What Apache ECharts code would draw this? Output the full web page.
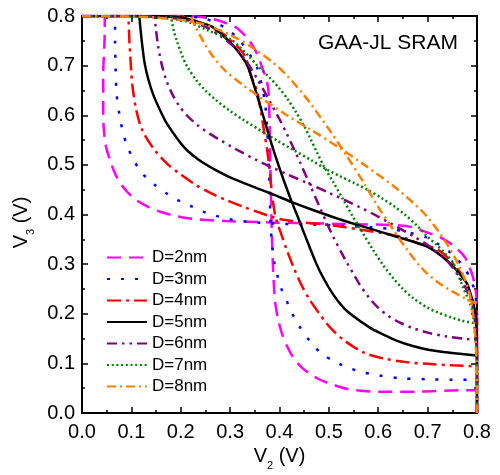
<!DOCTYPE html>
<html>
<head>
<meta charset="utf-8">
<script src="https://cdn.jsdelivr.net/npm/echarts@6.0.0/dist/echarts.min.js"></script>
<style>
  html, body { margin: 0; padding: 0; background: #fff; }
  #main { width: 500px; height: 475px; }
</style>
</head>
<body>
<div id="main"></div>
<script>
// inverter transfer curves: vout = f(vin)
// each one is drawn twice (V3 vs V2 and V2 vs V3) to give the butterfly
var vin2  = [0, 0.1, 0.21, 0.25, 0.28, 0.3, 0.315, 0.335, 0.35, 0.36, 0.367, 0.373, 0.378, 0.381, 0.384, 0.387, 0.391, 0.397, 0.405, 0.415, 0.429, 0.445, 0.46, 0.48, 0.5, 0.54, 0.6, 0.68, 0.77, 0.8];
var vout2 = [0.8, 0.8, 0.8, 0.797, 0.79, 0.782, 0.775, 0.755, 0.733, 0.71, 0.69, 0.675, 0.645, 0.52, 0.38, 0.29, 0.225, 0.19, 0.16, 0.135, 0.11, 0.092, 0.08, 0.068, 0.06, 0.048, 0.043, 0.043, 0.046, 0.046];

var vin3  = [0, 0.1, 0.2, 0.245, 0.27, 0.292, 0.32, 0.34, 0.355, 0.364, 0.37, 0.374, 0.377, 0.38, 0.382, 0.385, 0.389, 0.395, 0.403, 0.415, 0.426, 0.44, 0.46, 0.485, 0.515, 0.54, 0.565, 0.6, 0.644, 0.7, 0.75, 0.8];
var vout3 = [0.8, 0.8, 0.799, 0.796, 0.786, 0.775, 0.75, 0.722, 0.695, 0.66, 0.63, 0.59, 0.53, 0.45, 0.38, 0.34, 0.306, 0.28, 0.252, 0.225, 0.2, 0.175, 0.147, 0.12, 0.102, 0.091, 0.083, 0.076, 0.07, 0.068, 0.067, 0.067];

var vin4  = [0, 0.1, 0.19, 0.228, 0.28, 0.3, 0.32, 0.332, 0.342, 0.354, 0.362, 0.37, 0.375, 0.38, 0.385, 0.39, 0.395, 0.403, 0.415, 0.43, 0.445, 0.46, 0.483, 0.5, 0.53, 0.57, 0.61, 0.66, 0.7, 0.75, 0.8];
var vout4 = [0.8, 0.8, 0.8, 0.791, 0.768, 0.752, 0.733, 0.715, 0.68, 0.65, 0.61, 0.56, 0.53, 0.49, 0.44, 0.405, 0.385, 0.362, 0.328, 0.29, 0.257, 0.23, 0.197, 0.175, 0.147, 0.122, 0.11, 0.102, 0.099, 0.096, 0.094];

var vin5  = [0, 0.1, 0.2, 0.228, 0.262, 0.295, 0.315, 0.335, 0.35, 0.365, 0.38, 0.395, 0.41, 0.425, 0.44, 0.45, 0.475, 0.49, 0.51, 0.53, 0.55, 0.583, 0.6, 0.637, 0.67, 0.704, 0.75, 0.8];
var vout5 = [0.8, 0.8, 0.797, 0.79, 0.779, 0.752, 0.73, 0.7, 0.655, 0.605, 0.555, 0.508, 0.465, 0.425, 0.388, 0.362, 0.3, 0.27, 0.237, 0.212, 0.195, 0.172, 0.163, 0.146, 0.135, 0.127, 0.121, 0.116];

var vin6  = [0, 0.1, 0.2, 0.248, 0.28, 0.308, 0.329, 0.342, 0.355, 0.367, 0.382, 0.401, 0.415, 0.427, 0.443, 0.463, 0.48, 0.497, 0.51, 0.526, 0.537, 0.55, 0.563, 0.58, 0.6, 0.62, 0.644, 0.67, 0.7, 0.74, 0.78, 0.8];
var vout6 = [0.8, 0.8, 0.794, 0.779, 0.76, 0.738, 0.713, 0.695, 0.673, 0.652, 0.625, 0.59, 0.562, 0.537, 0.502, 0.457, 0.418, 0.38, 0.353, 0.322, 0.302, 0.28, 0.258, 0.234, 0.212, 0.196, 0.182, 0.171, 0.162, 0.154, 0.149, 0.147];

var vin7  = [0, 0.1, 0.15, 0.208, 0.255, 0.302, 0.319, 0.339, 0.355, 0.379, 0.399, 0.416, 0.433, 0.45, 0.463, 0.476, 0.49, 0.509, 0.529, 0.549, 0.569, 0.59, 0.61, 0.63, 0.65, 0.67, 0.7, 0.72, 0.75, 0.77, 0.8];
var vout7 = [0.8, 0.8, 0.797, 0.79, 0.771, 0.752, 0.738, 0.718, 0.7, 0.677, 0.655, 0.633, 0.607, 0.578, 0.552, 0.525, 0.497, 0.465, 0.43, 0.395, 0.362, 0.328, 0.298, 0.272, 0.25, 0.232, 0.212, 0.203, 0.192, 0.186, 0.18];

var vin8  = [0, 0.1, 0.16, 0.24, 0.3, 0.35, 0.4, 0.45, 0.5, 0.535, 0.57, 0.6, 0.63, 0.66, 0.69, 0.72, 0.75, 0.78, 0.8];
var vout8 = [0.8, 0.799, 0.796, 0.785, 0.762, 0.733, 0.695, 0.64, 0.572, 0.52, 0.465, 0.415, 0.37, 0.327, 0.29, 0.264, 0.245, 0.229, 0.22];

var legendNames = ['D=2nm', 'D=3nm', 'D=4nm', 'D=5nm', 'D=6nm', 'D=7nm', 'D=8nm'];

var curves = [
  {vin: vin2, vout: vout2, color: '#ff00ff', dash: [14, 8]},
  {vin: vin3, vout: vout3, color: '#0000ff', dash: [3, 11]},
  {vin: vin4, vout: vout4, color: '#ff0000', dash: [14, 5, 3, 5]},
  {vin: vin5, vout: vout5, color: '#000000', dash: 'solid'},
  {vin: vin6, vout: vout6, color: '#800080', dash: [10, 5, 2.5, 5, 2.5, 5]},
  {vin: vin7, vout: vout7, color: '#008000', dash: [2, 2.7]},
  {vin: vin8, vout: vout8, color: '#ff8000', dash: [9, 4, 2, 4]}
];

var FONT = '"Liberation Sans", Arial, sans-serif';

var series = [];
curves.forEach(function (c, k) {
  var direct = c.vin.map(function (v, i) { return [v, c.vout[i]]; });
  var mirror = c.vin.map(function (v, i) { return [c.vout[i], v]; });
  [direct, mirror].forEach(function (d) {
    series.push({
      name: legendNames[k],
      type: 'line',
      data: d,
      symbol: 'none',
      showSymbol: false,
      smooth: 0.3,
      animation: false,
      lineStyle: {color: c.color, width: 2.5, type: c.dash},
      itemStyle: {color: c.color}
    });
  });
});

var baseAxis = {
  type: 'value',
  min: 0,
  max: 0.8,
  interval: 0.1,
  splitLine: {show: false},
  axisLine: {show: true, onZero: false, lineStyle: {color: '#000', width: 2}},
  axisTick: {show: true, inside: true, length: 6, lineStyle: {color: '#000', width: 1.5}},
  minorTick: {show: true, splitNumber: 2, length: 3, lineStyle: {color: '#000', width: 1.5}},
  axisLabel: {
    color: '#000', fontSize: 20, fontFamily: FONT,
    formatter: function (v) { return v.toFixed(1); }
  }
};

var myChart = echarts.init(document.getElementById('main'), null, {renderer: 'canvas'});
option = {
  backgroundColor: '#fff',
  animation: false,
  title: {
    text: 'GAA-JL SRAM',
    right: 42,
    top: 33,
    padding: 0,
    textStyle: {fontSize: 21, fontWeight: 'normal', color: '#000', fontFamily: FONT}
  },
  legend: {
    data: legendNames,
    orient: 'vertical',
    left: 106,
    top: 249,
    padding: 0,
    itemWidth: 40,
    itemHeight: 14,
    itemGap: 4.5,
    itemStyle: {opacity: 0},
    textStyle: {fontSize: 17, color: '#000', fontFamily: FONT, lineHeight: 17}
  },
  grid: {left: 82, right: 23, top: 16, bottom: 62, containLabel: false, outerBoundsMode: 'none'},
  xAxis: [
    echarts.util.merge({
      position: 'bottom',
      name: 'V{sub|2} (V)',
      nameLocation: 'middle',
      nameGap: 29,
      nameTextStyle: {
        color: '#000', fontSize: 20, fontFamily: FONT,
        rich: {sub: {fontSize: 11, fontFamily: FONT, padding: [18, 0, 0, 0]}}
      },
      axisLabel: {margin: 9}
    }, baseAxis, false),
    echarts.util.merge({position: 'top', axisLabel: {show: false}}, baseAxis, false)
  ],
  yAxis: [
    echarts.util.merge({
      position: 'left',
      name: 'V{sub|3} (V)',
      nameLocation: 'middle',
      nameGap: 46,
      nameTextStyle: {
        color: '#000', fontSize: 20, fontFamily: FONT,
        padding: [0, 16, 0, 0],
        rich: {sub: {fontSize: 11, fontFamily: FONT, padding: [18, 0, 0, 0]}}
      },
      axisLabel: {margin: 7}
    }, baseAxis, false),
    echarts.util.merge({position: 'right', axisLabel: {show: false}}, baseAxis, false)
  ],
  series: series
};
myChart.setOption(option);
</script>
</body>
</html>
